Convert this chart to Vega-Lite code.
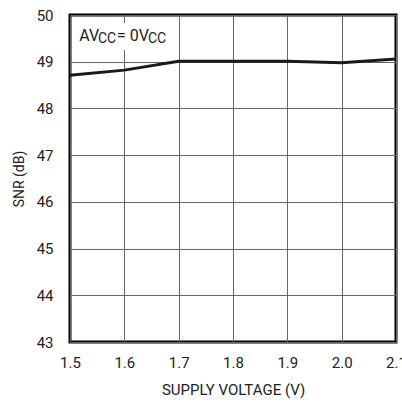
{
  "$schema": "https://vega.github.io/schema/vega-lite/v6.json",
  "width": 326,
  "height": 327,
  "autosize": "none",
  "padding": {"left": 70, "top": 15, "right": 6, "bottom": 61},
  "background": "white",
  "config": {
    "font": "Roboto",
    "view": {"stroke": "black", "strokeWidth": 3},
    "axis": {
      "domain": false,
      "ticks": false,
      "tickSize": 0,
      "grid": true,
      "gridColor": "#666666",
      "gridWidth": 1,
      "gridOpacity": 1,
      "labelFont": "Roboto",
      "labelFontSize": 15,
      "labelColor": "#222222",
      "titleFont": "Roboto",
      "titleFontSize": 15,
      "titleFontWeight": "normal",
      "titleColor": "#222222"
    }
  },
  "layer": [
    {
      "data": {
        "values": [
          {"voltage": 1.5, "snr": 48.71},
          {"voltage": 1.6, "snr": 48.82},
          {"voltage": 1.7, "snr": 49.01},
          {"voltage": 1.8, "snr": 49.01},
          {"voltage": 1.9, "snr": 49.01},
          {"voltage": 2.0, "snr": 48.98},
          {"voltage": 2.1, "snr": 49.06}
        ]
      },
      "mark": {"type": "line", "color": "#1a1a1a", "strokeWidth": 3},
      "encoding": {
        "x": {
          "field": "voltage",
          "type": "quantitative",
          "scale": {"domain": [1.5, 2.1], "nice": false, "zero": false},
          "axis": {
            "values": [1.5, 1.6, 1.7, 1.8, 1.9, 2.0, 2.1],
            "format": ".1f",
            "labelPadding": 13,
            "labelFlush": false,
            "title": "SUPPLY VOLTAGE (V)",
            "titlePadding": 12
          }
        },
        "y": {
          "field": "snr",
          "type": "quantitative",
          "scale": {"domain": [43, 50], "nice": false, "zero": false},
          "axis": {
            "values": [43, 44, 45, 46, 47, 48, 49, 50],
            "labelPadding": 17,
            "title": "SNR (dB)",
            "titleFontSize": 14,
            "titlePadding": 10
          }
        }
      }
    },
    {
      "data": {"values": [{}]},
      "mark": {"type": "rect", "color": "white", "opacity": 1},
      "encoding": {
        "x": {"datum": 1.5037, "type": "quantitative"},
        "x2": {"datum": 1.696},
        "y": {"datum": 49.83, "type": "quantitative"},
        "y2": {"datum": 49.25}
      }
    },
    {
      "data": {"values": [{}]},
      "mark": {"type": "text", "text": "AV", "align": "left", "baseline": "alphabetic", "dx": 9.3, "dy": 25.7, "fontSize": 16, "color": "#222222", "font": "Roboto"},
      "encoding": {
        "x": {"datum": 1.5, "type": "quantitative"},
        "y": {"datum": 50, "type": "quantitative"}
      }
    },
    {
      "data": {"values": [{}]},
      "mark": {"type": "text", "text": "CC", "align": "left", "baseline": "alphabetic", "dx": 28, "dy": 27.5, "fontSize": 14, "color": "#222222", "font": "Roboto"},
      "encoding": {
        "x": {"datum": 1.5, "type": "quantitative"},
        "y": {"datum": 50, "type": "quantitative"}
      }
    },
    {
      "data": {"values": [{}]},
      "mark": {"type": "text", "text": "= 0V", "align": "left", "baseline": "alphabetic", "dx": 47, "dy": 25.7, "fontSize": 16, "color": "#222222", "font": "Roboto"},
      "encoding": {
        "x": {"datum": 1.5, "type": "quantitative"},
        "y": {"datum": 50, "type": "quantitative"}
      }
    },
    {
      "data": {"values": [{}]},
      "mark": {"type": "text", "text": "CC", "align": "left", "baseline": "alphabetic", "dx": 78, "dy": 27.5, "fontSize": 14, "color": "#222222", "font": "Roboto"},
      "encoding": {
        "x": {"datum": 1.5, "type": "quantitative"},
        "y": {"datum": 50, "type": "quantitative"}
      }
    }
  ]
}
